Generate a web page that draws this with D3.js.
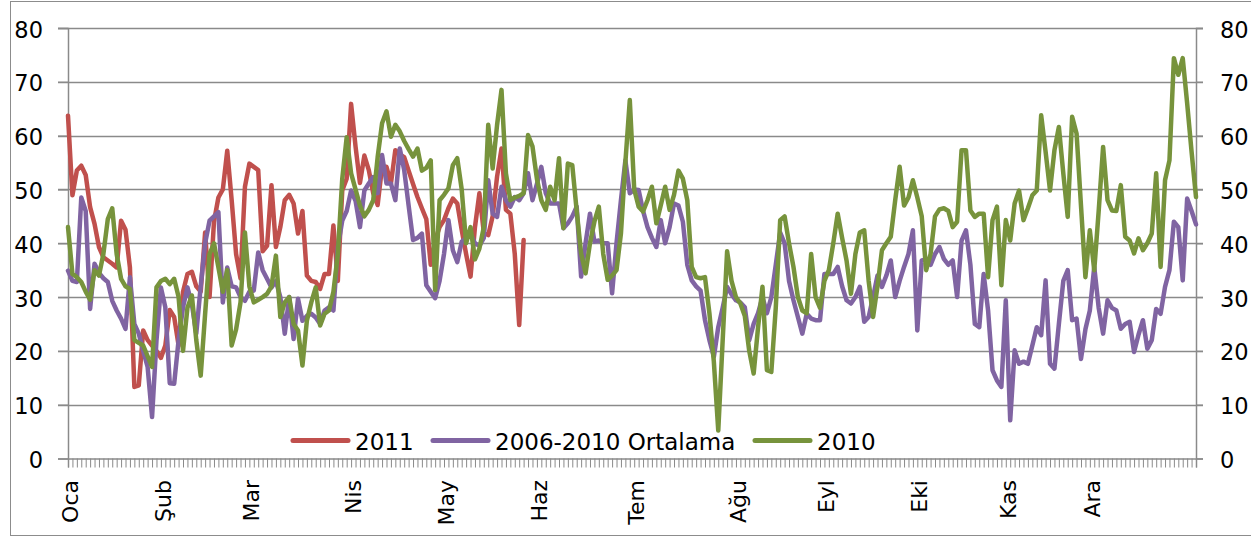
<!DOCTYPE html>
<html lang="tr">
<head>
<meta charset="UTF-8">
<title>2011 - 2006-2010 Ortalama - 2010</title>
<script src="https://d3js.org/d3.v7.min.js"></script>
<style>
  body { margin: 0; background: #fff; }
  svg text { font-family: "DejaVu Sans", Verdana, sans-serif; fill: #000; }
</style>
</head>
<body>
<svg id="chart" width="1251" height="537"></svg>
<script>
// month labels and the index of the first trading day of each month
var months = ["Oca", "Şub", "Mar", "Nis", "May", "Haz", "Tem", "Ağu", "Eyl", "Eki", "Kas", "Ara"];
var monthStart = [0, 21, 41, 64, 85, 106, 128, 151, 171, 192, 212, 231];
var yTicks = [0, 10, 20, 30, 40, 50, 60, 70, 80];
var seriesNames = ["2011", "2006-2010 Ortalama", "2010"];

// 2011 (stops in June)
var s2011 = [63.7, 48.9, 53.5, 54.4, 52.7, 46.7, 43.6, 39.3, 37.4, 36.8,
  36.2, 35.5, 44.2, 42.5, 35.5, 13.3, 13.6, 23.8, 22, 21,
  20, 18.7, 21, 27.6, 26.3, 21, 31, 34.3, 34.7, 32,
  31, 42, 30, 44, 48.5, 50, 57.2, 48, 38, 33.5,
  50.5, 54.8, 54.2, 53.6, 38.5, 39.5, 50.8, 39.3, 43, 48,
  49, 47.4, 41.8, 46, 34, 33, 32.8, 31.5, 34.3, 34.3,
  43.3, 33, 49.8, 52, 65.9, 58, 51.2, 56.3, 53.6, 49.3,
  47.1, 54.2, 54.2, 51.1, 57.3, 56.5, 56, 53.5, 51, 48.6,
  46.5, 44.5, 36, 40.5, 43, 44.3, 46.5, 48.3, 47.4, 42.5,
  38, 33.8, 43, 49.3, 42, 41.5, 45, 52.4, 57.6, 46.2,
  45.5, 38, 24.8, 40.6];

// 2006-2010 average
var sAvg = [34.9, 33, 32.8, 48.5, 46, 27.8, 36.2, 34.5, 33.5, 32.8,
  29.3, 27.5, 26, 24.1, 33.7, 25, 23.2, 20, 17, 7.7,
  21.9, 31.8, 28.1, 14, 13.9, 22, 28.1, 31.8, 28.7, 23.2,
  32, 40, 44.2, 45, 45.8, 29, 35.5, 32, 31.8, 30,
  29.3, 31, 31.2, 38.3, 35, 33.4, 31.8, 33, 30, 23.2,
  30, 22.2, 29.7, 25.6, 26.5, 26.9, 26.2, 25, 27.5, 28.1,
  27.5, 39.3, 44.2, 46, 49.8, 47.9, 43, 49.8, 51.1, 52.3,
  49.3, 56.4, 51.1, 51.1, 48, 57.6, 53.6, 47, 40.6, 41,
  41.8, 32.2, 31, 29.8, 33, 38, 44.3, 38.7, 36.5, 40.3,
  41, 41.8, 40, 39.5, 41, 51.7, 45.5, 44.9, 50.5, 48,
  46.8, 48.6, 48, 49.3, 53, 48, 51, 54.2, 49.3, 47.4,
  47.4, 47.4, 42.8, 43.7, 45, 46.8, 33.8, 40, 45.5, 40.3,
  40.5, 40, 40, 30.7, 40, 48, 55.4, 49.3, 50, 49.9,
  46, 43, 41, 39.3, 44.3, 40, 43, 47.4, 47, 44,
  36, 33.1, 32, 31.2, 25.7, 22, 18.9, 24.4, 28, 31.9,
  30.5, 29.4, 29, 28.1, 22, 25, 27, 30, 27, 30,
  36, 42, 40, 33, 29.4, 26.3, 23.2, 26.9, 26, 25.7,
  25.7, 34.3, 34.3, 34.3, 35.6, 32, 29.4, 28.8, 30, 31.9,
  25.4, 26.3, 30, 34, 31.9, 34, 36.8, 30, 33, 35.6,
  38, 42.4, 23.8, 36.8, 37, 36, 38, 39.3, 37.1, 36,
  36.8, 30, 40.5, 42.4, 36, 25, 24.4, 34.3, 27.5, 16.4,
  14.5, 13.3, 29.4, 7.1, 20.1, 17.6, 18, 17.6, 21, 24.4,
  22.9, 33.1, 17.6, 16.7, 25, 33, 35, 25.7, 26, 18.5,
  24, 27.5, 35.6, 28, 23.2, 29.4, 28, 27.5, 24.1, 25,
  25.4, 19.8, 23, 25.7, 20.4, 22, 27.8, 26.9, 31.9, 35,
  44, 43, 33.1, 48.3, 46, 43.5];

// 2010
var s2010 = [43, 34.3, 33.7, 32.8, 31, 29.5, 35, 34, 38, 44.5,
  46.5, 38, 33.4, 32, 31.5, 22, 21.5, 21, 19, 17,
  31.8, 33, 33.4, 32.4, 33.4, 30, 20, 28, 30.3, 22,
  15.4, 26.9, 38, 40, 35.5, 31, 35, 21, 24, 29,
  42, 32, 29, 29.5, 30, 30.6, 32, 37.7, 26.3, 29,
  30, 25, 23.8, 17.3, 25.6, 29, 31.8, 24.7, 26.9, 27.5,
  31, 38, 52, 59.7, 53, 50, 47, 45, 46.2, 48,
  56, 62.3, 64.5, 59.8, 62, 60.8, 59, 57.5, 56.1, 57.6,
  53.5, 54, 55.4, 31.3, 48, 49, 50.2, 54.5, 55.8, 50,
  40, 43, 37, 39, 43, 62, 53.9, 62, 68.5, 53,
  48, 48.5, 48.8, 49.3, 60.1, 58, 52, 48, 46.2, 50.5,
  48, 55.8, 42.8, 54.8, 54.5, 46, 38.1, 34.4, 40, 44,
  46.8, 38, 33.2, 34, 35, 41.8, 55, 66.6, 50, 46.8,
  45.9, 48, 50.5, 43.7, 47, 50.5, 46.2, 49, 53.5, 52,
  48, 35.6, 33.7, 33.5, 33.7, 27, 18, 5.2, 22, 38.5,
  33, 30, 28.8, 26.5, 20, 15.8, 24.4, 31.9, 16.4, 16.1,
  28, 44.3, 45, 40, 35.6, 30, 27.5, 27, 38, 30,
  28, 33, 35, 40, 45.5, 41, 36.8, 30.6, 38, 42,
  42.4, 33, 26.3, 32, 38.7, 40, 41.2, 48, 54.2, 47,
  48.5, 51.7, 48.5, 45, 35, 38, 45, 46.3, 46.5, 46,
  43, 44, 57.3, 57.3, 46.1, 44.9, 45.5, 45.5, 33.7, 44.3,
  46.8, 32.2, 44.3, 40.5, 47.4, 49.8, 44.3, 46.5, 48.9, 49.8,
  63.8, 57, 49.8, 57.3, 61.6, 53, 44.9, 63.5, 60.4, 47,
  33.7, 42.4, 35, 46, 57.9, 48, 46.1, 46, 50.8, 41.2,
  40.5, 38.1, 40.9, 38.7, 40, 41.8, 53, 35.6, 51.7, 55.4,
  74.4, 71.3, 74.4, 66, 57, 48.6];

var colors = ["#C0504D", "#8064A2", "#77933C"];

var svg = d3.select("#chart");
var plotLeft = 68, plotRight = 1196, plotTop = 28, plotBottom = 458.5;
var nCat = s2010.length;

var x = d3.scaleLinear().domain([0, nCat - 1]).range([plotLeft, plotRight]);
var y = d3.scaleLinear().domain([0, 80]).range([plotBottom, plotTop]);

// outer frame of the chart
svg.append("rect")
  .attr("x", 10.5).attr("y", 1.5)
  .attr("width", 1260).attr("height", 534)
  .attr("fill", "none").attr("stroke", "#8c8c8c").attr("stroke-width", 1);

// horizontal grid
svg.append("g")
  .selectAll("line")
  .data(yTicks.filter(function (d) { return d > 0; }))
  .enter().append("line")
    .attr("x1", plotLeft - 10).attr("x2", plotRight + 7)
    .attr("y1", function (d) { return Math.round(y(d)) + 0.5; })
    .attr("y2", function (d) { return Math.round(y(d)) + 0.5; })
    .attr("stroke", "#8a8a8a").attr("stroke-width", 1.4);

// left axis
var yl = svg.append("g")
  .attr("transform", "translate(" + plotLeft + ",0)")
  .call(d3.axisLeft(y).tickValues(yTicks).tickSize(10).tickPadding(15));
// right axis
var yr = svg.append("g")
  .attr("transform", "translate(" + plotRight + ",0)")
  .call(d3.axisRight(y).tickValues(yTicks).tickSize(7).tickPadding(17));
[yl, yr].forEach(function (g) {
  g.select(".domain").attr("stroke", "#8a8a8a").attr("stroke-width", 1.5);
  g.selectAll(".tick line").attr("stroke", "#8a8a8a").attr("stroke-width", 1.4);
  g.selectAll(".tick text")
    .style("font-size", "22.5px")
    .attr("dy", "0.4em");
});

// category axis: one tick per day
var xa = svg.append("g")
  .attr("transform", "translate(0," + plotBottom + ")")
  .call(d3.axisBottom(x).tickValues(d3.range(nCat)).tickSize(9).tickFormat(""));
xa.select(".domain").attr("stroke", "#8a8a8a").attr("stroke-width", 1.5);
xa.selectAll(".tick line").attr("stroke", "#8a8a8a").attr("stroke-width", 1);

// month labels
svg.append("g")
  .selectAll("text")
  .data(months)
  .enter().append("text")
    .attr("transform", function (d, i) {
      return "translate(" + (x(monthStart[i]) + 2) + ",480) rotate(-90)";
    })
    .attr("text-anchor", "end")
    .attr("dy", "0.36em")
    .style("font-size", "22px")
    .text(function (d) { return d; });

// lines
var line = d3.line()
  .x(function (d, i) { return x(i); })
  .y(function (d) { return y(d); });

[s2011, sAvg, s2010].forEach(function (s, k) {
  svg.append("path")
    .datum(s)
    .attr("d", line)
    .attr("fill", "none")
    .attr("stroke", colors[k])
    .attr("stroke-width", 4.5)
    .attr("stroke-linejoin", "round")
    .attr("stroke-linecap", "round");
});

// legend
var legendX = [293, 433, 755];
var leg = svg.append("g");
seriesNames.forEach(function (name, k) {
  leg.append("line")
    .attr("x1", legendX[k]).attr("x2", legendX[k] + 55)
    .attr("y1", 440.5).attr("y2", 440.5)
    .attr("stroke", colors[k]).attr("stroke-width", 5)
    .attr("stroke-linecap", "round");
  leg.append("text")
    .attr("x", legendX[k] + 62).attr("y", 450)
    .style("font-size", "23px")
    .text(name);
});
</script>
</body>
</html>
